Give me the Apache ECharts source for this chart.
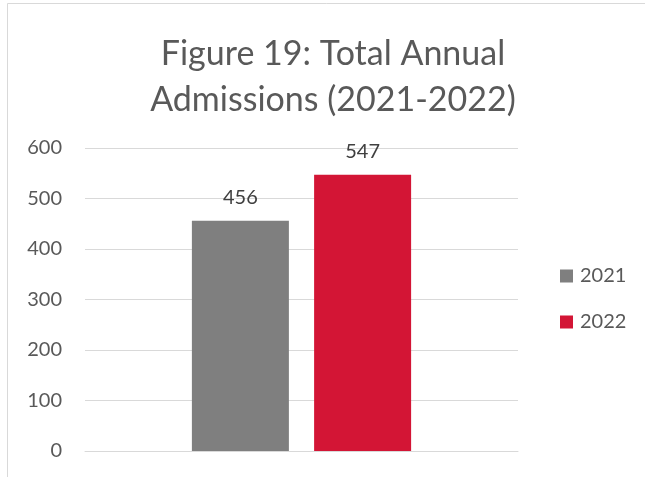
<!DOCTYPE html>
<html><head><meta charset="utf-8">
<script src="https://cdn.jsdelivr.net/npm/echarts@6/dist/echarts.min.js"></script>
<style>html,body{margin:0;padding:0;background:#fff}#c{width:645px;height:477px}</style>
</head><body><div id="c"></div>
<script>
const categories = ['Total'];
const seriesNames = ['2021', '2022'];
const values2021 = [456];
const values2022 = [547];
const colors = ['#7f7f7f', '#d31535'];
const yTicks = [0, 100, 200, 300, 400, 500, 600];

const chart = echarts.init(document.getElementById('c'));
const font = 'Lato, "Open Sans", sans-serif';
chart.setOption({
  animation: false,
  backgroundColor: '#fff',
  graphic: [{
    type: 'rect', shape: {x: 7.5, y: 3.5, width: 700, height: 500},
    style: {fill: 'none', stroke: '#d9d9d9', lineWidth: 1}, silent: true, z: -1
  }],
  title: {
    text: 'Figure 19: Total Annual\nAdmissions (2021-2022)',
    left: 328, top: 26, textAlign: 'center',
    textStyle: {fontFamily: font, fontSize: 34, fontWeight: 'normal', color: '#595959', lineHeight: 46}
  },
  legend: {
    orient: 'vertical', left: 560, top: 266, itemWidth: 13, itemHeight: 13, itemGap: 26,
    padding: 0, icon: 'rect',
    textStyle: {fontFamily: font, fontSize: 20, color: '#595959', padding: [0, 0, 0, 2]},
    data: seriesNames
  },
  grid: {left: 85, right: 127, top: 148, bottom: 26, containLabel: false},
  xAxis: {
    type: 'category', data: categories,
    axisLine: {show: true, lineStyle: {color: '#d9d9d9'}},
    axisTick: {show: false}, axisLabel: {show: false}
  },
  yAxis: {
    type: 'value', min: yTicks[0], max: yTicks[yTicks.length - 1], interval: 100,
    axisLine: {show: false}, axisTick: {show: false},
    axisLabel: {fontFamily: font, fontSize: 20, color: '#595959', margin: 23},
    splitLine: {lineStyle: {color: '#d9d9d9', width: 1}}
  },
  series: [
    {name: seriesNames[0], type: 'bar', data: values2021, barWidth: 97, barGap: '26%',
     itemStyle: {color: colors[0]},
     label: {show: true, position: 'top', distance: 13, fontFamily: font, fontSize: 20, color: '#404040'}},
    {name: seriesNames[1], type: 'bar', data: values2022, barWidth: 97,
     itemStyle: {color: colors[1]},
     label: {show: true, position: 'top', distance: 13, fontFamily: font, fontSize: 20, color: '#404040'}}
  ]
});
</script></body></html>
